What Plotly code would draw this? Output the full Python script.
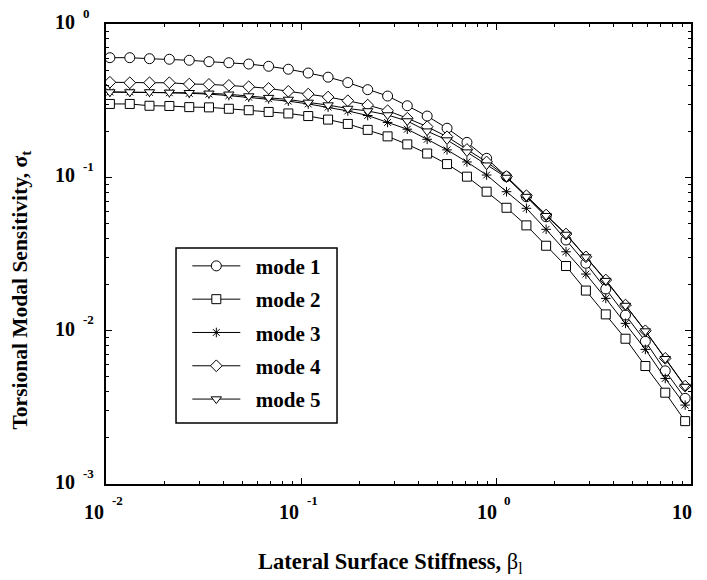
import math
import plotly.graph_objects as go

# Lateral surface stiffness (x) sample points
beta = [0.01047, 0.01324, 0.01671, 0.02113, 0.02673, 0.03373, 0.04266, 0.05395,
        0.06823, 0.08610, 0.1089, 0.1377, 0.1738, 0.2198, 0.2780, 0.3508,
        0.4436, 0.5610, 0.7096, 0.8954, 1.132, 1.432, 1.807, 2.286, 2.891,
        3.656, 4.613, 5.834, 7.379, 9.333]

mode1 = [0.603, 0.603, 0.594, 0.589, 0.580, 0.568, 0.559, 0.548, 0.530, 0.507,
         0.479, 0.450, 0.415, 0.373, 0.339, 0.293, 0.251, 0.209, 0.169, 0.133,
         0.101, 0.0747, 0.0553, 0.0390, 0.0275, 0.0187, 0.01264, 0.00852,
         0.00547, 0.00362]
mode2 = [0.301, 0.301, 0.293, 0.292, 0.287, 0.286, 0.280, 0.274, 0.267, 0.261,
         0.251, 0.238, 0.223, 0.204, 0.185, 0.164, 0.143, 0.122, 0.101, 0.0806,
         0.0633, 0.0486, 0.0358, 0.0264, 0.01826, 0.01277, 0.00886, 0.00588,
         0.00394, 0.00257]
mode3 = [0.360, 0.360, 0.358, 0.356, 0.353, 0.349, 0.341, 0.333, 0.325, 0.314,
         0.301, 0.287, 0.271, 0.253, 0.228, 0.206, 0.177, 0.151, 0.126, 0.1035,
         0.0806, 0.0628, 0.0458, 0.0327, 0.0234, 0.01624, 0.01116, 0.00755,
         0.00488, 0.00327]
mode4 = [0.417, 0.414, 0.414, 0.414, 0.406, 0.404, 0.398, 0.390, 0.380, 0.364,
         0.349, 0.334, 0.316, 0.296, 0.272, 0.243, 0.214, 0.184, 0.152, 0.126,
         0.1012, 0.0759, 0.0568, 0.0427, 0.0303, 0.0214, 0.01469, 0.00998,
         0.00660, 0.00435]
mode5 = [0.360, 0.360, 0.360, 0.358, 0.356, 0.353, 0.348, 0.339, 0.331, 0.322,
         0.308, 0.296, 0.281, 0.271, 0.255, 0.233, 0.200, 0.175, 0.146, 0.120,
         0.0997, 0.0749, 0.0562, 0.0424, 0.0302, 0.0212, 0.01458, 0.00994,
         0.00656, 0.00432]

series_names = ["mode 1", "mode 2", "mode 3", "mode 4", "mode 5"]
series_values = [mode1, mode2, mode3, mode4, mode5]
symbols = ["circle", "square", "asterisk-open", "diamond", "triangle-down"]
fills = ["white", "white", "black", "white", "white"]
sizes = [10, 9, 8, 9, 9]

# Tick labels: base "10" with exponent
x_tickvals = [0.01, 0.1, 1, 10]
x_tick_exp = ["-2", "-1", "0", "1"]
y_tickvals = [0.001, 0.01, 0.1, 1]
y_tick_exp = ["-3", "-2", "-1", "0"]
tick_base = "10"
x_minor = [m * 10 ** e for e in (-2, -1, 0) for m in range(2, 10)]
y_minor = [m * 10 ** e for e in (-3, -2, -1) for m in range(2, 10)]

FONT = "Liberation Serif, Times New Roman, serif"
BASE_FONT = dict(family=FONT, size=20, color="black")
EXP_FONT = dict(family=FONT, size=13, color="black")

fig = go.Figure()
for i, (name, vals) in enumerate(zip(series_names, series_values)):
    fig.add_trace(go.Scatter(
        x=beta, y=vals, name="\u00a0\u00a0" + name, mode="lines+markers",
        line=dict(color="black", width=1),
        marker=dict(symbol=symbols[i], size=sizes[i], color=fills[i],
                    line=dict(color="black", width=1)),
        legendgroup=name,
    ))

axis_common = dict(
    type="log", showgrid=False, zeroline=False, automargin=False,
    showline=True, linecolor="black", linewidth=2, mirror="allticks",
    ticks="inside", ticklen=6, tickwidth=1, tickcolor="black",
    showticklabels=False,
)
fig.update_xaxes(range=[-2, 1], tickmode="array", tickvals=x_tickvals,
                 minor=dict(tickmode="array", tickvals=x_minor, ticks="inside", ticklen=3,
                            tickcolor="black", tickwidth=1),
                 **axis_common)
fig.update_yaxes(range=[-3, 0], tickmode="array", tickvals=y_tickvals,
                 minor=dict(tickmode="array", tickvals=y_minor, ticks="inside", ticklen=3,
                            tickcolor="black", tickwidth=1),
                 **axis_common)

lab = dict(showarrow=False, borderpad=0, borderwidth=0)
# x tick labels (annotations on log axes take log10 positions)
for v, e in zip(x_tickvals, x_tick_exp):
    shift = 3 - 3 * len(e)
    lx = math.log10(v)
    fig.add_annotation(text="<b>" + tick_base + "</b>", xref="x", yref="paper",
                       x=lx, y=0, xanchor="right", yanchor="middle",
                       xshift=shift + 1, yshift=-28, font=BASE_FONT, **lab)
    # exponent placed with an invisible arrow so it is kept even at the page edge
    fig.add_annotation(text="<b>" + e + "</b>", xref="x", yref="paper",
                       x=lx, y=0, showarrow=True, arrowcolor="rgba(0,0,0,0)",
                       arrowhead=0, arrowwidth=0.1, ax=11, ay=16,
                       borderpad=0, borderwidth=0, font=EXP_FONT)
# y tick labels
for v, e in zip(y_tickvals, y_tick_exp):
    ly = math.log10(v)
    fig.add_annotation(text="<b>" + tick_base + "</b>", xref="paper", yref="y",
                       x=0, y=ly, xanchor="right", yanchor="middle",
                       xshift=-31, yshift=2, font=BASE_FONT, **lab)
    fig.add_annotation(text="<b>" + e + "</b>", xref="paper", yref="y",
                       x=0, y=ly, xanchor="left", yanchor="middle",
                       xshift=-23, yshift=11, font=EXP_FONT, **lab)

fig.add_annotation(text="<b>Lateral Surface Stiffness, </b>β<sub>l</sub>",
                   xref="paper", yref="paper", x=0.487, y=-0.172,
                   xanchor="center", yanchor="middle", showarrow=False,
                   font=dict(family=FONT, size=22.5, color="black"))
fig.add_annotation(text="<b>Torsional Modal Sensitivity, σ<sub>t</sub></b>",
                   xref="paper", yref="paper", x=-0.145, y=0.421,
                   xanchor="center", yanchor="middle", showarrow=False, textangle=-90,
                   font=dict(family=FONT, size=21.5, color="black"))

# legend frame
fig.add_shape(type="rect", xref="paper", yref="paper",
              x0=0.1197, x1=0.3949, y0=0.1326, y1=0.513,
              line=dict(color="black", width=1.5), fillcolor="white", layer="above")

fig.update_layout(
    width=699, height=572,
    margin=dict(l=98, r=16, t=16, b=96, autoexpand=False),
    paper_bgcolor="white", plot_bgcolor="white",
    showlegend=True,
    legend=dict(x=0.139, y=0.518, xanchor="left", yanchor="top",
                bgcolor="rgba(0,0,0,0)", borderwidth=0,
                font=dict(family=FONT, size=21, color="black", weight="bold"),
                tracegroupgap=3, traceorder="grouped", itemwidth=48),
)

fig.write_html("out.html")
